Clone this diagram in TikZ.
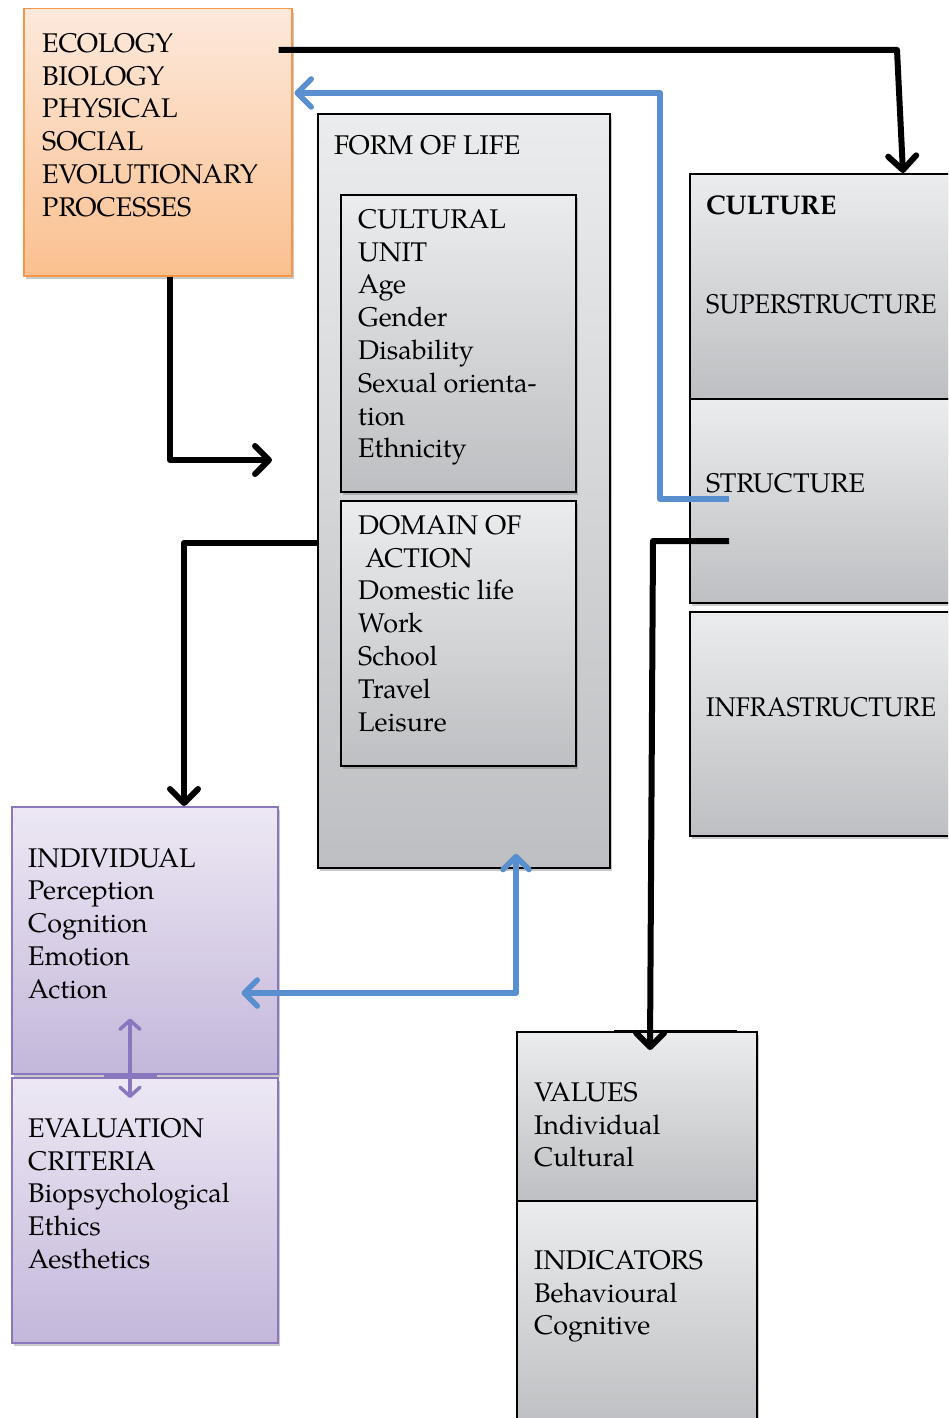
\documentclass[tikz,border=0pt]{standalone}
\usepackage{fontspec}
\setmainfont{TeX Gyre Pagella}
\newfontfamily\narrowserif[FakeStretch=0.94]{TeX Gyre Pagella}
\usetikzlibrary{arrows.meta,shadows,calc}

\definecolor{peachtop}{HTML}{FDE9DC}
\definecolor{peachbot}{HTML}{FAC08F}
\definecolor{peachline}{HTML}{F79646}
\definecolor{greytop}{HTML}{EBECED}
\definecolor{greybot}{HTML}{BDBFC2}
\definecolor{lilactop}{HTML}{EDE8F4}
\definecolor{lilacbot}{HTML}{C4B7DA}
\definecolor{lilacline}{HTML}{8A77BE}
\definecolor{linkblue}{HTML}{5A8FCF}

\tikzset{
  boxshadow/.style={drop shadow={shadow xshift=2pt,shadow yshift=-3pt,opacity=0.35,fill=black!60}},
  peachbox/.style={rectangle,draw=peachline,line width=1.5pt,top color=peachtop,bottom color=peachbot,
    anchor=north west,inner sep=0pt,boxshadow},
  greybox/.style={rectangle,draw=black,line width=1.8pt,top color=greytop,bottom color=greybot,
    anchor=north west,inner sep=0pt,boxshadow},
  lilacbox/.style={rectangle,draw=lilacline,line width=1.5pt,top color=lilactop,bottom color=lilacbot,
    anchor=north west,inner sep=0pt,boxshadow},
  txt/.style={anchor=north west,align=left,inner sep=0pt,font=\fontsize{27pt}{32.8pt}\selectfont},
  barb/.style={-{Straight Barb[length=14pt,width=28pt,round]}},
  dblbarb/.style={{Straight Barb[length=13pt,width=26pt,round]}-{Straight Barb[length=13pt,width=26pt,round]}},
  blk/.style={draw=black,line width=6pt,line join=round},
  bluelink/.style={draw=linkblue,line width=5.5pt,line join=round},
  lilaclink/.style={draw=lilacline,line width=3.5pt,
    {Straight Barb[length=9pt,width=20pt,round]}-{Straight Barb[length=9pt,width=20pt,round]}},
}

\begin{document}
\begin{tikzpicture}[x=1pt,y=-1pt]
\useasboundingbox (0,0) rectangle (948,1418);
\clip (0,0) rectangle (948,1418);

% boxes
\node[peachbox,minimum width=268pt,minimum height=267pt] (eco) at (23,8) {};
\node[greybox,minimum width=292pt,minimum height=754pt] (form) at (317,113) {};
\node[greybox,minimum width=235pt,minimum height=297pt] (unit) at (340,194) {};
\node[greybox,minimum width=235pt,minimum height=265pt] (domain) at (340,500) {};
\node[greybox,minimum width=275pt,minimum height=225pt] (super) at (689,173) {};
\node[greybox,minimum width=275pt,minimum height=204pt] (struct) at (689,398) {};
\node[greybox,minimum width=275pt,minimum height=224pt] (infra) at (689,611) {};
\node[lilacbox,minimum width=266pt,minimum height=267pt] (indiv) at (11,806) {};
\node[lilacbox,minimum width=266pt,minimum height=265pt] (eval) at (11,1077) {};
\node[greybox,minimum width=240pt,minimum height=169pt] (values) at (516,1031) {};
\node[greybox,minimum width=240pt,minimum height=225pt] (indic) at (516,1200) {};

% texts
\node[txt] (ecotxt) at (42,33) {ECOLOGY\\BIOLOGY\\PHYSICAL\\SOCIAL\\EVOLUTIONARY\\PROCESSES};
\node[txt] (formtxt) at (334,135) {FORM OF LIFE};
\node[txt] (unittxt) at (358,209) {CULTURAL\\UNIT\\Age\\Gender\\Disability\\Sexual orienta-\\tion\\Ethnicity};
\node[txt] (domaintxt) at (358,515) {DOMAIN OF\\\hspace*{7pt}ACTION\\Domestic life\\Work\\School\\Travel\\Leisure};
\node[txt] (culturetxt) at (706,196) {\bfseries CULTURE};
\node[txt] (supertxt) at (706,294) {\narrowserif SUPERSTRUCTURE};
\node[txt] (structtxt) at (706,473) {STRUCTURE};
\node[txt] (infratxt) at (706,697) {\narrowserif INFRASTRUCTURE};
\node[txt] (indivtxt) at (28,848) {INDIVIDUAL\\Perception\\Cognition\\Emotion\\Action};
\node[txt] (evaltxt) at (28,1118) {EVALUATION\\CRITERIA\\Biopsychological\\Ethics\\Aesthetics};
\node[txt] (valuestxt) at (534,1082) {VALUES\\Individual\\Cultural};
\node[txt] (indictxt) at (534,1250) {INDICATORS\\Behavioural\\Cognitive};

% bends and free ends of the connectors
\coordinate (c1) at (897,50);
\coordinate (c2) at (170,460);
\coordinate (a2end) at (272,460);
\coordinate (c3) at (184,543);
\coordinate (c4) at (653,541);
\coordinate (c5a) at (660,499);
\coordinate (c5b) at (660,93);
\coordinate (c6) at (516,993);

% black connectors
\draw[blk,barb] ($(eco.north east)+(-14,42)$) -- (c1) -- ($(super.north west)+(214,0)$);
\draw[blk,barb] ($(eco.south west)+(147,0)$) -- (c2) -- (a2end);
\draw[blk,barb] ($(form.north west)+(1,430)$) -- (c3) -- ($(indiv.north west)+(173,0)$);
\draw[blk,barb] ($(struct.north west)+(40,143)$) -- (c4) -- ($(values.north west)+(134,19)$);

% blue connectors
\draw[bluelink,barb] ($(struct.north west)+(40,101)$) -- (c5a) -- (c5b) -- ($(eco.north east)+(2,85)$);
\draw[bluelink,dblbarb] ($(form.south west)+(199,-15)$) -- (c6) -- ($(indiv.north east)+(-37,187)$);

% link between the two lilac boxes
\draw[lilacline,line width=4pt] ($(indiv.south west)+(93,0)$) -- ($(indiv.south west)+(146,0)$);
\draw[lilaclink] ($(indiv.south west)+(119,-56)$) -- ($(eval.north west)+(119,21)$);

% heavy rule on top of the values box
\draw[black,line width=3pt] ($(values.north west)+(98,0)$) -- ($(values.north west)+(221,0)$);
\end{tikzpicture}
\end{document}
